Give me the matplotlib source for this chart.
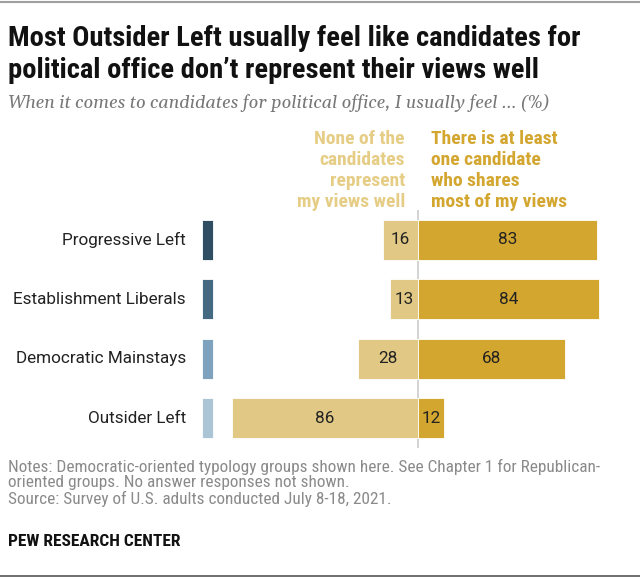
import matplotlib
matplotlib.use("Agg")
import matplotlib.pyplot as plt
from matplotlib.lines import Line2D

groups = ["Progressive Left", "Establishment Liberals", "Democratic Mainstays", "Outsider Left"]
none_represent = [16, 13, 28, 86]
one_shares = [83, 84, 68, 12]
group_colors = ["#2f4d63", "#436983", "#7fa3be", "#abc4d6"]

LIGHT = "#e1c985"
GOLD = "#d3a62f"
COND = ["Roboto Condensed", "DejaVu Sans"]
BOOK = ["Roboto", "DejaVu Sans"]

W, H = 640, 579
fig = plt.figure(figsize=(W / 100, H / 100), dpi=100)


def fx(px):
    return px / W


def fy(py):
    return 1 - py / H


# frame lines top and bottom
fig.add_artist(Line2D([fx(0), fx(640)], [fy(2), fy(2)], color="#a0a0a0", lw=1.5))
fig.add_artist(Line2D([fx(0), fx(640)], [fy(576), fy(576)], color="#555555", lw=1.2))

fig.text(fx(8), fy(39), "Most Outsider Left usually feel like candidates for",
         family=COND, weight="bold", size=20.5, va="center", color="#111111")
fig.text(fx(8), fy(71), "political office don\u2019t represent their views well",
         family=COND, weight="bold", size=20.5, va="center", color="#111111")
fig.text(fx(8), fy(103), "When it comes to candidates for political office, I usually feel ... (%)",
         family=["Gelasio", "DejaVu Serif"], style="italic", size=13,
         va="center", color="#777777")

# column headers
left_head = ["None of the", "candidates", "represent", "my views well"]
right_head = ["There is at least", "one candidate", "who shares", "most of my views"]
for i, (a, b) in enumerate(zip(left_head, right_head)):
    y = fy(139 + i * 21)
    fig.text(fx(405), y, a, ha="right", va="center", family=COND,
             weight="bold", size=14, color="#e6cd86")
    fig.text(fx(431), y, b, ha="left", va="center", family=COND,
             weight="bold", size=14, color=GOLD)

# bars
scale = 2.16  # px per percentage point
center = 418
top, bottom = 210, 448
ax = fig.add_axes([0, fy(bottom), 1, (bottom - top) / H])
ax.set_xlim(-center / scale, (W - center) / scale)
ax.set_ylim(len(groups) - 0.5, -0.5)
ax.axis("off")

bh = 40 / ((bottom - top) / len(groups))
ys = range(len(groups))
ax.barh(ys, [-v for v in none_represent], height=bh, color=LIGHT,
        edgecolor="white", linewidth=0.6)
ax.barh(ys, one_shares, height=bh, color=GOLD, edgecolor="white", linewidth=0.6)
ax.barh(ys, [11 / scale] * len(groups), left=(202 - center) / scale, height=bh,
        color=group_colors, edgecolor="white", linewidth=0.6)
ax.axvline(0, color="#cccccc", lw=1.2, zorder=0.5)

for y, name, n, o in zip(ys, groups, none_represent, one_shares):
    ax.text((186 - center) / scale, y, name, ha="right", va="center",
            family=BOOK, size=12.3, color="#222222")
    ax.text(-n / 2, y, str(n), ha="center", va="center",
            family=BOOK, size=12.3, color="#222222")
    ax.text(o / 2, y, str(o), ha="center", va="center",
            family=BOOK, size=12.3, color="#222222")

notes = ["Notes: Democratic-oriented typology groups shown here. See Chapter 1 for Republican-",
         "oriented groups. No answer responses not shown.",
         "Source: Survey of U.S. adults conducted July 8-18, 2021."]
for i, line in enumerate(notes):
    fig.text(fx(8), fy(467 + i * 16), line, family=COND, size=12.4,
             va="center", color="#8a8a8a")

fig.text(fx(8), fy(541), "PEW RESEARCH CENTER", family=COND, weight="bold",
         size=12.5, va="center", color="#111111")

fig.savefig("out.png", dpi=100)
